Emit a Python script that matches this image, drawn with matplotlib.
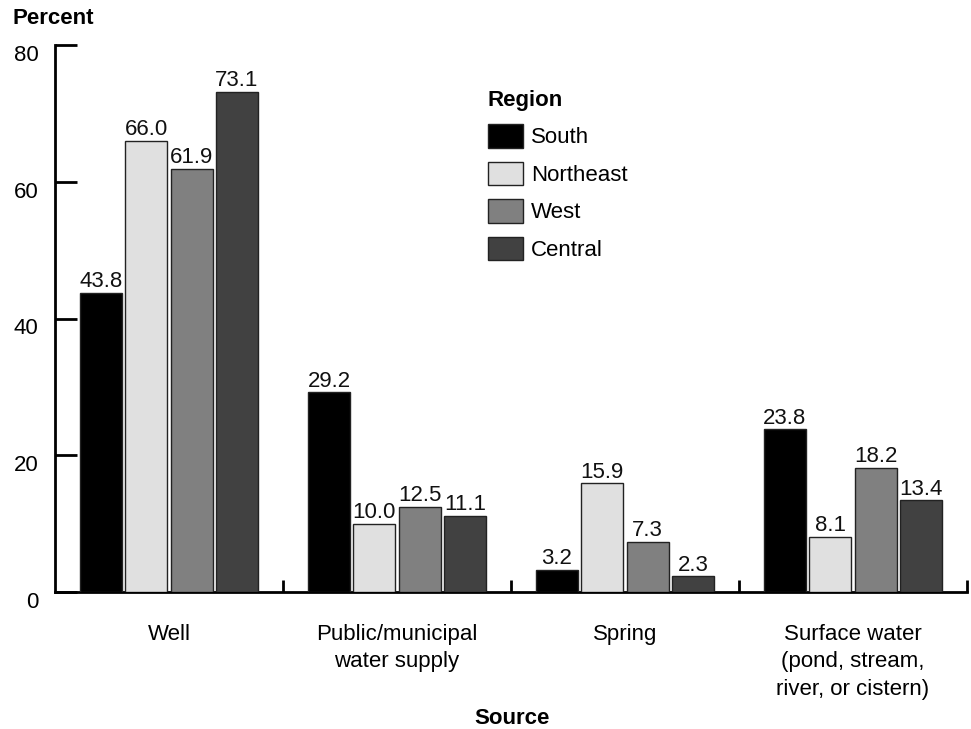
import matplotlib
matplotlib.use("Agg")
import matplotlib.pyplot as plt
from matplotlib.patches import Patch
from matplotlib.transforms import ScaledTranslation
import numpy as np

plt.rcParams['font.family'] = ['Liberation Sans', 'DejaVu Sans']

categories = ["Well", "Public/municipal\nwater supply", "Spring",
              "Surface water\n(pond, stream,\nriver, or cistern)"]
regions = ["South", "Northeast", "West", "Central"]
south = [43.8, 29.2, 3.2, 23.8]
northeast = [66.0, 10.0, 15.9, 8.1]
west = [61.9, 12.5, 7.3, 18.2]
central = [73.1, 11.1, 2.3, 13.4]
series = [south, northeast, west, central]
colors = ["#000000", "#e0e0e0", "#808080", "#414141"]
yticks = [0, 20, 40, 60, 80]

fig = plt.figure(figsize=(9.71, 7.29), dpi=100)
ax = fig.add_axes([55/971, 1-592/729, 912/971, 547/729])

step = 0.199
width = 0.184
centers = np.arange(len(categories)) + 0.5
for j, (vals, col) in enumerate(zip(series, colors)):
    xs = centers + (j - 1.5) * step
    ax.bar(xs, vals, width=width, color=col, edgecolor="#222222",
           linewidth=1.0, label=regions[j], zorder=3)
    for x, v in zip(xs, vals):
        ax.annotate(f"{v:.1f}", (x, v), xytext=(0, 0.5), textcoords="offset points",
                    ha="center", va="bottom", fontsize=16, color="#111111")

ax.set_xlim(0, 4)
ax.set_ylim(0, 80)
ax.set_yticks(yticks)
ax.tick_params(axis="y", direction="in", length=16, width=2, pad=12,
               labelsize=16)
shift = ScaledTranslation(0, -8/100, fig.dpi_scale_trans)
for lbl in ax.get_yticklabels():
    lbl.set_transform(lbl.get_transform() + shift)

ax.set_xticks(centers)
ax.set_xticklabels(categories, fontsize=16, linespacing=1.4)
ax.tick_params(axis="x", length=0, pad=23)
ax.set_xticks([1, 2, 3, 4], minor=True)
ax.tick_params(axis="x", which="minor", direction="in", length=9, width=2)

for s in ["top", "right"]:
    ax.spines[s].set_visible(False)
for s in ["left", "bottom"]:
    ax.spines[s].set_linewidth(2)

handles = [Patch(facecolor=c, edgecolor="#222222", linewidth=1.0) for c in colors]
leg = ax.legend(handles, regions, title="Region", loc="upper left",
                bbox_to_anchor=(470/971, 1-72/729), bbox_transform=fig.transFigure,
                frameon=False, fontsize=16, title_fontproperties={"weight": "bold", "size": 16},
                handlelength=1.58, handleheight=1.25, labelspacing=0.6,
                handletextpad=0.36, alignment="left", borderpad=0.3)

fig.text(12/971, 1-18/729, "Percent", fontsize=16, fontweight="bold",
         ha="left", va="center")
fig.text(512/971, 1-718/729, "Source", fontsize=16, fontweight="bold",
         ha="center", va="center")

fig.savefig("out.png", dpi=100)
